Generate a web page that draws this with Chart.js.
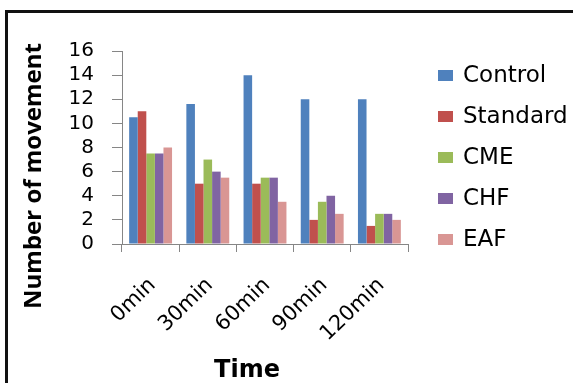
<!DOCTYPE html>
<html>
<head>
<meta charset="utf-8">
<script src="https://cdn.jsdelivr.net/npm/chart.js@4/dist/chart.umd.min.js"></script>
<style>
  html, body { margin: 0; padding: 0; background: #fff; overflow: hidden; }
  #wrap { position: relative; width: 573px; height: 383px; }
  #frame { position: absolute; left: 5px; top: 10px; width: 620px; height: 420px;
           border: 3px solid #111; box-sizing: border-box; }
  #chart { position: absolute; left: 0; top: 0; }
  #legend { position: absolute; left: 438px; top: 62px; font-family: 'DejaVu Sans', sans-serif;
            font-size: 23px; color: #000; }
  .item { position: absolute; left: 0; height: 24px; line-height: 24px; white-space: nowrap; }
  .box { position: absolute; left: 0; top: 8px; width: 15px; height: 11px; }
  .lbl { position: absolute; left: 25px; top: 0; }
</style>
</head>
<body>
<div id="wrap">
  <div id="frame"></div>
  <canvas id="chart" width="573" height="383"></canvas>
  <div id="legend"></div>
</div>
<script>
var categories = ['0min', '30min', '60min', '90min', '120min'];
var seriesNames = ['Control', 'Standard', 'CME', 'CHF', 'EAF'];
var control  = [10.5, 11.6, 14, 12, 12];
var standard = [11, 5, 5, 2, 1.5];
var cme      = [7.5, 7, 5.5, 3.5, 2.5];
var chf      = [7.5, 6, 5.5, 4, 2.5];
var eaf      = [8, 5.5, 3.5, 2.5, 2];
var yTickValues = [0, 2, 4, 6, 8, 10, 12, 14, 16];
var colors = ['#4F81BD', '#C0504D', '#9BBB59', '#8064A2', '#D99694'];

function main() {
  'use strict';

  var values = [control, standard, cme, chf, eaf];
  var axisGrey = '#868686';

  var datasets = seriesNames.map(function(name, i) {
    return {
      label: name,
      data: values[i],
      backgroundColor: colors[i],
      borderWidth: 0,
      categoryPercentage: 0.75,
      barPercentage: 1.0
    };
  });

  // axis titles, drawn where the original puts them
  var axisTitles = {
    id: 'axisTitles',
    afterDraw: function(chart) {
      var ctx = chart.ctx;
      ctx.save();
      ctx.fillStyle = '#000';
      ctx.textAlign = 'center';
      ctx.textBaseline = 'middle';
      ctx.font = 'bold 24px "Open Sans"';
      ctx.translate(34, 176);
      ctx.rotate(-Math.PI / 2);
      ctx.fillText('Number of movement', 0, 0);
      ctx.restore();

      ctx.save();
      ctx.fillStyle = '#000';
      ctx.textAlign = 'center';
      ctx.textBaseline = 'middle';
      ctx.font = 'bold 24px "DejaVu Sans"';
      ctx.fillText('Time', 247, 371);
      ctx.restore();
    }
  };

  new Chart(document.getElementById('chart'), {
    type: 'bar',
    data: { labels: categories, datasets: datasets },
    plugins: [axisTitles],
    options: {
      responsive: false,
      animation: false,
      devicePixelRatio: 1,
      layout: { padding: { left: 18, top: 51, right: 165, bottom: 0 } },
      plugins: {
        legend: { display: false },
        tooltip: { enabled: false }
      },
      scales: {
        x: {
          afterFit: function(scale) { scale.height = 383 - 244; },
          grid: { drawOnChartArea: false, drawTicks: true, tickLength: 8, color: axisGrey, offset: true },
          border: { display: true, color: axisGrey, width: 1 },
          ticks: {
            color: '#000',
            font: { family: 'DejaVu Sans', size: 21 },
            minRotation: 44,
            maxRotation: 44,
            labelOffset: 2,
            padding: 21,
            autoSkip: false
          }
        },
        y: {
          min: 0,
          max: 16,
          afterFit: function(scale) { scale.width = 122 - 18; },
          afterBuildTicks: function(scale) {
            scale.ticks = yTickValues.map(function(v) { return { value: v }; });
          },
          grid: { drawOnChartArea: false, drawTicks: true, tickLength: 10, color: axisGrey },
          border: { display: true, color: axisGrey, width: 1 },
          ticks: {
            color: '#000',
            font: { family: 'DejaVu Sans', size: 20 },
            padding: 18,
            autoSkip: false
          }
        }
      }
    }
  });

  // legend on the right
  var legend = document.getElementById('legend');
  seriesNames.forEach(function(name, i) {
    var item = document.createElement('div');
    item.className = 'item';
    item.style.top = (41 * i) + 'px';
    var box = document.createElement('div');
    box.className = 'box';
    box.style.background = colors[i];
    var lbl = document.createElement('div');
    lbl.className = 'lbl';
    lbl.textContent = name;
    item.appendChild(box);
    item.appendChild(lbl);
    legend.appendChild(item);
  });
}
main();
</script>
</body>
</html>
